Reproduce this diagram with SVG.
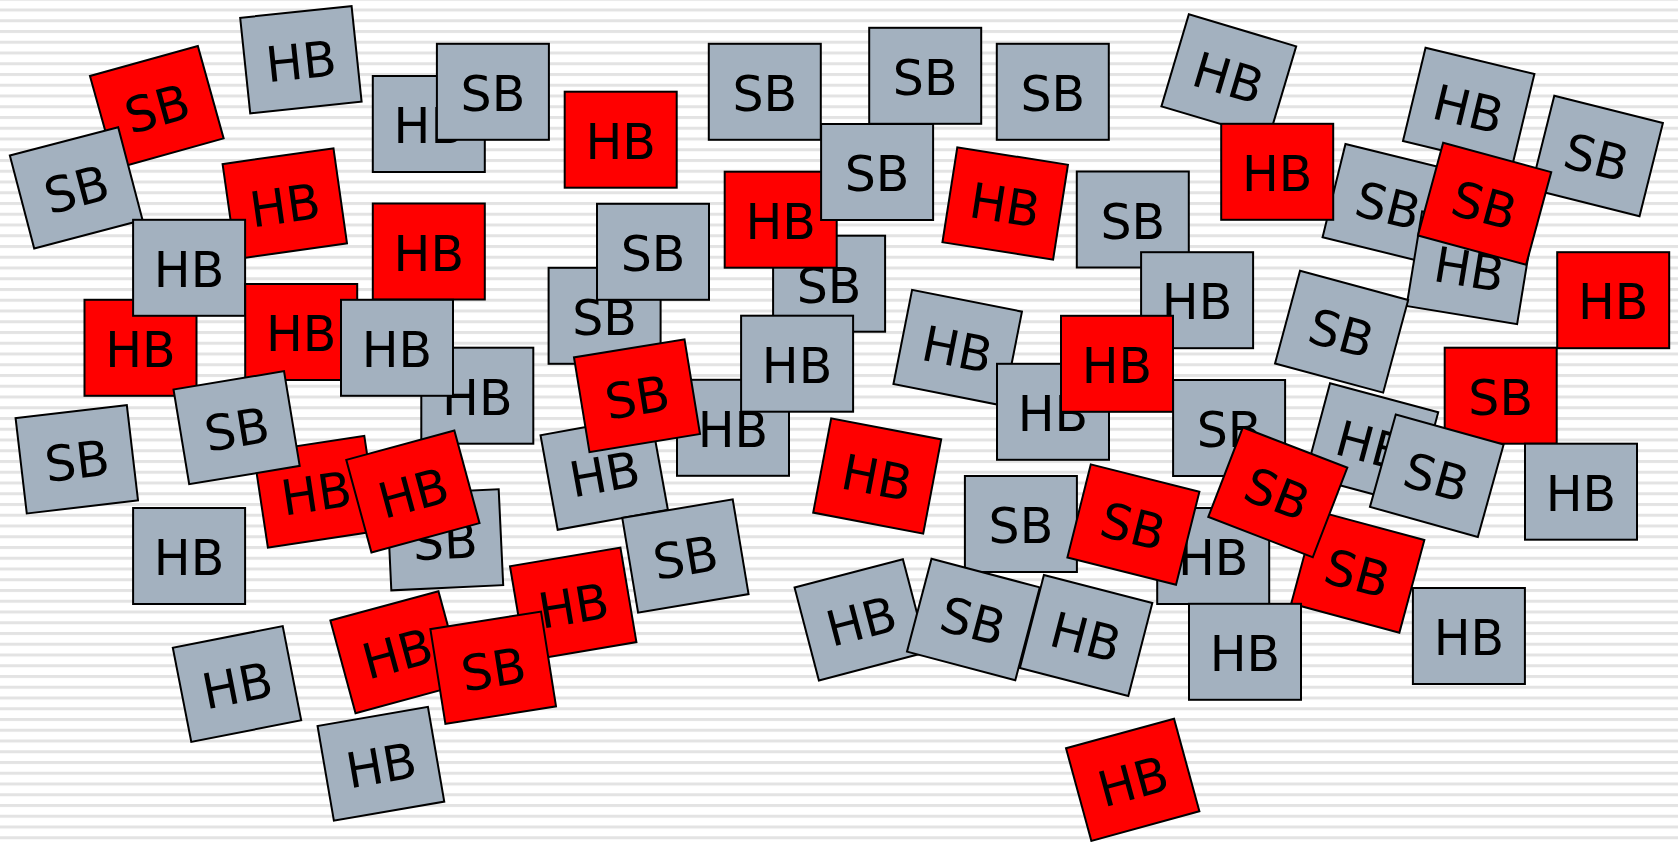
<svg xmlns="http://www.w3.org/2000/svg" width="1678" height="842" viewBox="0 0 1678 842">
<defs>
<pattern id="stripes" patternUnits="userSpaceOnUse" x="0" y="8.5" width="40" height="10.75">
<rect x="0" y="0" width="40" height="3" fill="#e3e3e3"/>
</pattern>
<rect id="box" x="-56" y="-48" width="112" height="96"/>
</defs>
<style>
.n rect, .n use { stroke: #000; stroke-width: 2; }
.g use { fill: #a3b1bf; }
.r use { fill: #ff0000; }
.n text { font-family: "DejaVu Sans", "Liberation Sans", sans-serif; font-size: 49px; text-anchor: middle; fill: #000; }
</style>
<rect x="0" y="0" width="1678" height="842" fill="#ffffff"/>
<rect x="0" y="0" width="1678" height="842" fill="url(#stripes)"/>
<g id="nodes">
<g id="n1" class="n r" transform="translate(156.8,107.2) rotate(-15.6)"><use href="#box"/><text y="19">SB</text></g>
<g id="n2" class="n g" transform="translate(76.2,187.8) rotate(-14.7)"><use href="#box"/><text y="19">SB</text></g>
<g id="n3" class="n g" transform="translate(300.9,59.7) rotate(-6)"><use href="#box"/><text y="19">HB</text></g>
<g id="n4" class="n g" transform="translate(428.8,124)"><use href="#box"/><text y="19">HB</text></g>
<g id="n5" class="n g" transform="translate(492.9,91.8)"><use href="#box"/><text y="19">SB</text></g>
<g id="n6" class="n r" transform="translate(284.8,203.7) rotate(-8.1)"><use href="#box"/><text y="19">HB</text></g>
<g id="n7" class="n r" transform="translate(140.5,347.8)"><use href="#box"/><text y="19">HB</text></g>
<g id="n8" class="n g" transform="translate(189.1,267.8)"><use href="#box"/><text y="19">HB</text></g>
<g id="n9" class="n r" transform="translate(428.8,251.5)"><use href="#box"/><text y="19">HB</text></g>
<g id="n10" class="n r" transform="translate(301.2,332)"><use href="#box"/><text y="19">HB</text></g>
<g id="n11" class="n g" transform="translate(477.3,395.7)"><use href="#box"/><text y="19">HB</text></g>
<g id="n12" class="n g" transform="translate(397,347.8)"><use href="#box"/><text y="19">HB</text></g>
<g id="n13" class="n g" transform="translate(604.6,315.8)"><use href="#box"/><text y="19">SB</text></g>
<g id="n14" class="n g" transform="translate(653,251.8)"><use href="#box"/><text y="19">SB</text></g>
<g id="n15" class="n r" transform="translate(620.7,139.7)"><use href="#box"/><text y="19">HB</text></g>
<g id="n16" class="n g" transform="translate(764.8,91.8)"><use href="#box"/><text y="19">SB</text></g>
<g id="n17" class="n g" transform="translate(925.2,75.8)"><use href="#box"/><text y="19">SB</text></g>
<g id="n18" class="n g" transform="translate(1052.8,91.8)"><use href="#box"/><text y="19">SB</text></g>
<g id="n19" class="n g" transform="translate(829.1,283.7)"><use href="#box"/><text y="19">SB</text></g>
<g id="n20" class="n r" transform="translate(780.7,219.7)"><use href="#box"/><text y="19">HB</text></g>
<g id="n21" class="n g" transform="translate(877.1,172)"><use href="#box"/><text y="19">SB</text></g>
<g id="n22" class="n g" transform="translate(733,427.8)"><use href="#box"/><text y="19">HB</text></g>
<g id="n23" class="n g" transform="translate(797.1,363.7)"><use href="#box"/><text y="19">HB</text></g>
<g id="n24" class="n g" transform="translate(604.2,472.5) rotate(-10.3)"><use href="#box"/><text y="19">HB</text></g>
<g id="n25" class="n r" transform="translate(637,395.7) rotate(-9.3)"><use href="#box"/><text y="19">SB</text></g>
<g id="n26" class="n g" transform="translate(685.4,556) rotate(-9.5)"><use href="#box"/><text y="19">SB</text></g>
<g id="n27" class="n g" transform="translate(957.7,347.8) rotate(11.2)"><use href="#box"/><text y="19">HB</text></g>
<g id="n28" class="n r" transform="translate(1005.2,203.5) rotate(8.9)"><use href="#box"/><text y="19">HB</text></g>
<g id="n29" class="n g" transform="translate(1132.8,219.5)"><use href="#box"/><text y="19">SB</text></g>
<g id="n30" class="n g" transform="translate(1197.1,300.2)"><use href="#box"/><text y="19">HB</text></g>
<g id="n31" class="n g" transform="translate(1053,411.8)"><use href="#box"/><text y="19">HB</text></g>
<g id="n32" class="n r" transform="translate(1117,363.8)"><use href="#box"/><text y="19">HB</text></g>
<g id="n33" class="n g" transform="translate(1228.8,76.3) rotate(16.6)"><use href="#box"/><text y="19">HB</text></g>
<g id="n34" class="n g" transform="translate(1388.4,204) rotate(13.8)"><use href="#box"/><text y="19">SB</text></g>
<g id="n35" class="n r" transform="translate(1277.2,171.8)"><use href="#box"/><text y="19">HB</text></g>
<g id="n36" class="n g" transform="translate(1468.7,107.5) rotate(13.6)"><use href="#box"/><text y="19">HB</text></g>
<g id="n37" class="n g" transform="translate(1596.9,156) rotate(14.1)"><use href="#box"/><text y="19">SB</text></g>
<g id="n38" class="n g" transform="translate(1469.6,267.7) rotate(9.3)"><use href="#box"/><text y="19">HB</text></g>
<g id="n39" class="n r" transform="translate(1484.6,203.8) rotate(15.2)"><use href="#box"/><text y="19">SB</text></g>
<g id="n40" class="n r" transform="translate(1613.2,300.2)"><use href="#box"/><text y="19">HB</text></g>
<g id="n41" class="n g" transform="translate(1341.6,331.7) rotate(15.1)"><use href="#box"/><text y="19">SB</text></g>
<g id="n42" class="n g" transform="translate(1229.1,428)"><use href="#box"/><text y="19">SB</text></g>
<g id="n43" class="n r" transform="translate(1500.7,395.7)"><use href="#box"/><text y="19">SB</text></g>
<g id="n44" class="n g" transform="translate(1371.7,444.2) rotate(15)"><use href="#box"/><text y="19">HB</text></g>
<g id="n45" class="n g" transform="translate(1436.8,475.7) rotate(15.6)"><use href="#box"/><text y="19">SB</text></g>
<g id="n46" class="n g" transform="translate(1581,491.7)"><use href="#box"/><text y="19">HB</text></g>
<g id="n47" class="n g" transform="translate(1213.2,556)"><use href="#box"/><text y="19">HB</text></g>
<g id="n48" class="n r" transform="translate(1357.8,571.8) rotate(15.1)"><use href="#box"/><text y="19">SB</text></g>
<g id="n49" class="n r" transform="translate(1277.8,492.3) rotate(21.1)"><use href="#box"/><text y="19">SB</text></g>
<g id="n50" class="n g" transform="translate(1020.9,524)"><use href="#box"/><text y="19">SB</text></g>
<g id="n51" class="n r" transform="translate(1133.4,524.6) rotate(14.1)"><use href="#box"/><text y="19">SB</text></g>
<g id="n52" class="n r" transform="translate(877.2,476) rotate(10.8)"><use href="#box"/><text y="19">HB</text></g>
<g id="n53" class="n g" transform="translate(860.9,619.8) rotate(-14.7)"><use href="#box"/><text y="19">HB</text></g>
<g id="n54" class="n g" transform="translate(973.4,619.5) rotate(14.8)"><use href="#box"/><text y="19">SB</text></g>
<g id="n55" class="n g" transform="translate(1086.1,635.5) rotate(14.5)"><use href="#box"/><text y="19">HB</text></g>
<g id="n56" class="n g" transform="translate(1245,651.8)"><use href="#box"/><text y="19">HB</text></g>
<g id="n57" class="n g" transform="translate(1468.9,636)"><use href="#box"/><text y="19">HB</text></g>
<g id="n58" class="n r" transform="translate(1132.7,779.8) rotate(-15.3)"><use href="#box"/><text y="19">HB</text></g>
<g id="n59" class="n g" transform="translate(76.8,459.3) rotate(-6.7)"><use href="#box"/><text y="19">SB</text></g>
<g id="n60" class="n r" transform="translate(316.1,491.8) rotate(-8.6)"><use href="#box"/><text y="19">HB</text></g>
<g id="n61" class="n g" transform="translate(236.6,427.7) rotate(-9.4)"><use href="#box"/><text y="19">SB</text></g>
<g id="n62" class="n g" transform="translate(445,539.8) rotate(-2.7)"><use href="#box"/><text y="19">SB</text></g>
<g id="n63" class="n r" transform="translate(412.9,491.5) rotate(-15.2)"><use href="#box"/><text y="19">HB</text></g>
<g id="n64" class="n g" transform="translate(189.1,556)"><use href="#box"/><text y="19">HB</text></g>
<g id="n65" class="n g" transform="translate(237,684) rotate(-11.1)"><use href="#box"/><text y="19">HB</text></g>
<g id="n66" class="n r" transform="translate(573.2,604.2) rotate(-9.6)"><use href="#box"/><text y="19">HB</text></g>
<g id="n67" class="n r" transform="translate(397,652.2) rotate(-15.2)"><use href="#box"/><text y="19">HB</text></g>
<g id="n68" class="n r" transform="translate(493.2,667.7) rotate(-9)"><use href="#box"/><text y="19">SB</text></g>
<g id="n69" class="n g" transform="translate(380.9,763.8) rotate(-9.8)"><use href="#box"/><text y="19">HB</text></g>
</g>
<g id="connectors"/>
</svg>
